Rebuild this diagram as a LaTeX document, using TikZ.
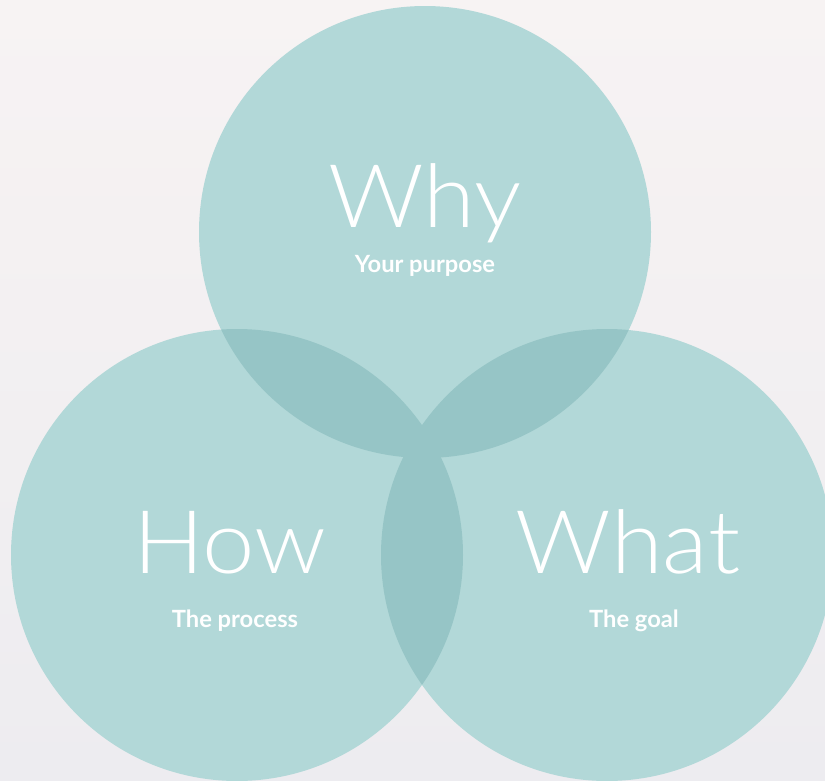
\documentclass[tikz,border=0pt]{standalone}
\usepackage{fontspec}
\setmainfont{Lato}
\newfontfamily\thinfont{Lato Light}
\usepackage{tikz}

\definecolor{bgtop}{RGB}{247,243,243}
\definecolor{bgbot}{RGB}{237,236,240}
\definecolor{petal}{RGB}{178,216,216}
\definecolor{overlap}{RGB}{150,197,198}

\begin{document}
\begin{tikzpicture}[x=0.02cm, y=-0.02cm,
	big/.style={text=white, font=\thinfont\fontsize{50}{50}\selectfont, anchor=base, xscale=1.07},
	small/.style={text=white, font=\bfseries\fontsize{13.5}{13.5}\selectfont, anchor=base}]
	\useasboundingbox (0,0) rectangle (825,781);
	\shade[top color=bgtop, bottom color=bgbot] (0,0) rectangle (825,781);
	\def\rad{226}
	\coordinate (why) at (425,232);
	\coordinate (how) at (237,555);
	\coordinate (what) at (607,555);
	\foreach \c in {why,how,what} \fill[petal] (\c) circle[radius=\rad];
	% overlaps
	\begin{scope}
		\clip (why) circle[radius=\rad];
		\fill[overlap] (how) circle[radius=\rad] (what) circle[radius=\rad];
	\end{scope}
	\begin{scope}
		\clip (how) circle[radius=\rad];
		\fill[overlap] (what) circle[radius=\rad];
	\end{scope}
	% labels
	\node[big] (whytext) at (425,227) {Why};
	\node[small] (whysub) at (425,272) {Your purpose};
	\node[big] (howtext) at (230,573) {How};
	\node[small] (howsub) at (235,627) {The process};
	\node[big] (whattext) at (628,573) {What};
	\node[small] (whatsub) at (634,627) {The goal};
\end{tikzpicture}
\end{document}
